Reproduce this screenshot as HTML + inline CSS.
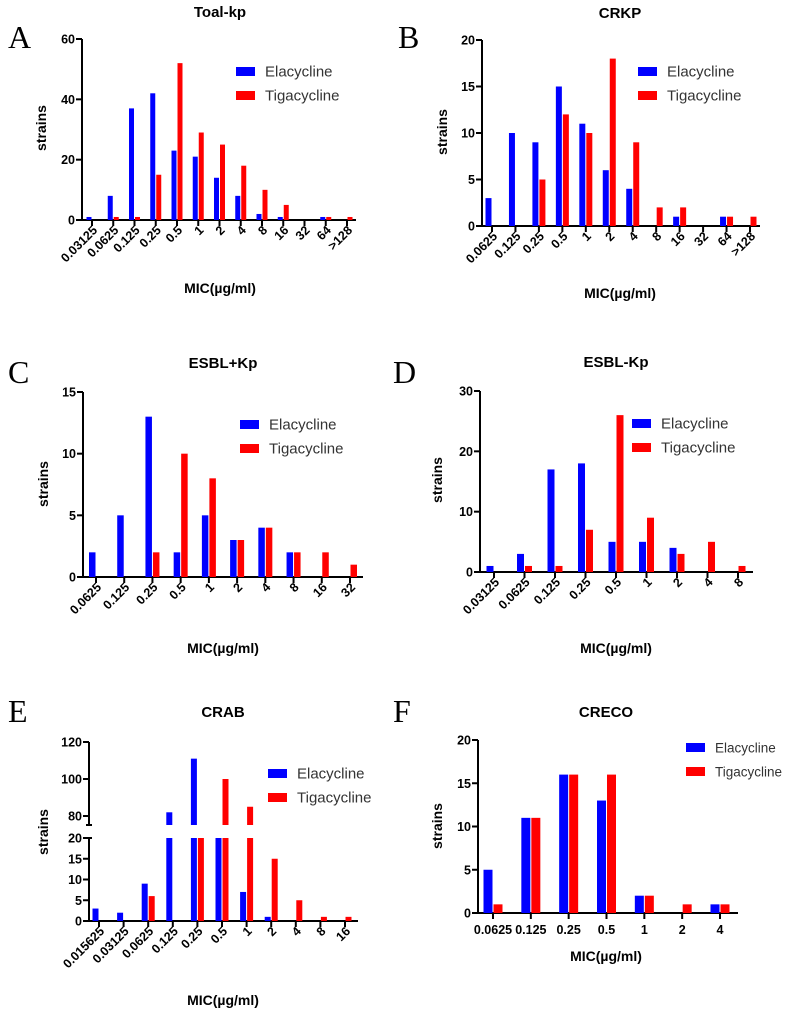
<!DOCTYPE html>
<html><head><meta charset="utf-8">
<style>
html,body{margin:0;padding:0;background:#fff;}
svg{display:block;}
text{font-family:"Liberation Sans",Arial,sans-serif;}
text.letter{font-family:"Liberation Serif","DejaVu Serif",serif;}
</style></head>
<body>
<svg id="fig" width="786" height="1015" viewBox="0 0 786 1015" xmlns="http://www.w3.org/2000/svg"></svg>
<script>
// Panel A
const catsA = ["0.03125","0.0625","0.125","0.25","0.5","1","2","4","8","16","32","64",">128"];
const elaA = [1,8,37,42,23,21,14,8,2,1,0,1,0];
const tigA = [0,1,1,15,52,29,25,18,10,5,0,1,1];
const ticksA = [0,20,40,60];
// Panel B
const catsB = ["0.0625","0.125","0.25","0.5","1","2","4","8","16","32","64",">128"];
const elaB = [3,10,9,15,11,6,4,0,1,0,1,0];
const tigB = [0,0,5,12,10,18,9,2,2,0,1,1];
const ticksB = [0,5,10,15,20];
// Panel C
const catsC = ["0.0625","0.125","0.25","0.5","1","2","4","8","16","32"];
const elaC = [2,5,13,2,5,3,4,2,0,0];
const tigC = [0,0,2,10,8,3,4,2,2,1];
const ticksC = [0,5,10,15];
// Panel D
const catsD = ["0.03125","0.0625","0.125","0.25","0.5","1","2","4","8"];
const elaD = [1,3,17,18,5,5,4,0,0];
const tigD = [0,1,1,7,26,9,3,5,1];
const ticksD = [0,10,20,30];
// Panel E
const catsE = ["0.015625","0.03125","0.0625","0.125","0.25","0.5","1","2","4","8","16"];
const elaE = [3,2,9,82,111,40,7,1,0,0,0];
const tigE = [0,0,6,0,40,100,85,15,5,1,1];
const ticksELow = [0,5,10,15,20];
const ticksEHigh = [80,100,120];
// Panel F
const catsF = ["0.0625","0.125","0.25","0.5","1","2","4"];
const elaF = [5,11,16,13,2,0,1];
const tigF = [1,11,16,16,2,1,1];
const ticksF = [0,5,10,15,20];

const NS="http://www.w3.org/2000/svg";
const svg=document.getElementById('fig');
function mk(tag,attrs,parent){const e=document.createElementNS(NS,tag);for(const k in attrs)e.setAttribute(k,attrs[k]);(parent||svg).appendChild(e);return e;}
function txt(s,attrs,parent){const e=mk('text',attrs,parent);e.textContent=s;return e;}
const TICKF=12.5, YTF=12.5;

function panel(p){
  const g=mk('g',{});
  
  
  const L=txt(p.letter,{x:p.lx,y:p.ly,'class':'letter','font-size':32},g);
  
  
  const T=txt(p.title,{x:p.tx,y:p.ty,'font-size':15,'font-weight':'bold','text-anchor':'middle'},g);
  
  
  const n=p.cats.length, sp=(p.lastTick-p.firstTick)/(n-1);
  const xf=i=>p.firstTick+i*sp;
  let yf;
  if(!p.broken){
    yf=v=>p.y0-(v/p.ymax)*(p.y0-p.ytop);
    const ya=mk('line',{x1:p.ax,y1:p.ytop,x2:p.ax,y2:p.y0+1,stroke:'#000','stroke-width':2},g);
    
    
    p.ticks.forEach(t=>{
      mk('line',{x1:p.ax-6,y1:yf(t),x2:p.ax,y2:yf(t),stroke:'#000','stroke-width':2},g);
      const tl=txt(t,{x:p.ax-7,y:yf(t)+4.5,'font-size':YTF,'font-weight':'bold','text-anchor':'end'},g);
      
      
    });
  } else {
    const lowY=v=>p.y0-(v/20)*(p.y0-p.y20);
    const hiY=v=>p.y80-(v-80)*(p.y80-p.y120)/40;
    yf=lowY; p.hiY=hiY;
    const ya=mk('line',{x1:p.ax,y1:p.y20,x2:p.ax,y2:p.y0+1,stroke:'#000','stroke-width':2},g);
    
    
    const yb=mk('line',{x1:p.ax,y1:p.y120,x2:p.ax,y2:p.yBrk,stroke:'#000','stroke-width':2},g);
    
    
    mk('line',{x1:p.ax-3,y1:p.yBrk,x2:p.ax+3,y2:p.yBrk,stroke:'#000','stroke-width':2},g);
    mk('line',{x1:p.ax-3,y1:p.y20,x2:p.ax+3,y2:p.y20,stroke:'#000','stroke-width':2},g);
    p.ticks.forEach(t=>{
      mk('line',{x1:p.ax-6,y1:lowY(t),x2:p.ax,y2:lowY(t),stroke:'#000','stroke-width':2},g);
      const tl=txt(t,{x:p.ax-7,y:lowY(t)+4.5,'font-size':YTF,'font-weight':'bold','text-anchor':'end'},g);
      
      
    });
    p.ticksHigh.forEach(t=>{
      mk('line',{x1:p.ax-6,y1:hiY(t),x2:p.ax,y2:hiY(t),stroke:'#000','stroke-width':2},g);
      const tl=txt(t,{x:p.ax-7,y:hiY(t)+4.5,'font-size':YTF,'font-weight':'bold','text-anchor':'end'},g);
      
      
    });
  }
  const xa=mk('line',{x1:p.ax-1,y1:p.y0,x2:p.axEnd,y2:p.y0,stroke:'#000','stroke-width':2},g);
  
  
  const yt=txt('strains',{x:0,y:0,'font-size':14,'font-weight':'bold','text-anchor':'middle',transform:`translate(${p.sx},${p.sy}) rotate(-90)`},g);
  
  
  const xt=txt('MIC(µg/ml)',{x:p.mx,y:p.my,'font-size':14,'font-weight':'bold','text-anchor':'middle'},g);
  
  
  const bw=p.bw;
  p.cats.forEach((c,i)=>{
    const x=xf(i);
    mk('line',{x1:x,y1:p.y0,x2:x,y2:p.y0+6,stroke:'#000','stroke-width':2},g);
    let lab;
    if(p.flat){
      lab=txt(c,{x:x,y:p.y0+21,'font-size':TICKF,'font-weight':'bold','text-anchor':'middle'},g);
    } else {
      lab=txt(c,{x:0,y:0,'font-size':TICKF,'font-weight':'bold','text-anchor':'end',transform:`translate(${x+6},${p.y0+11}) rotate(-45)`},g);
    }
    
    
    [[p.ela[i],'#0000ff',x-bw-0.5,'elacycline-bar'],[p.tig[i],'#ff0000',x+0.5,'tigacycline-bar']].forEach(([v,col,bx,nm])=>{
      if(v<=0)return;
      if(!p.broken){
        const r=mk('rect',{x:bx,y:yf(v),width:bw,height:p.y0-yf(v),fill:col},g);
        
        
      } else {
        const lv=Math.min(v,20);
        const r=mk('rect',{x:bx,y:yf(lv),width:bw,height:p.y0-yf(lv),fill:col},g);
        
        
        if(v>75){
          const r2=mk('rect',{x:bx,y:p.hiY(v),width:bw,height:p.yBrk-p.hiY(v),fill:col},g);
          
          
        }
      }
    });
  });
  const lf=p.legF||15;
  [['Elacycline','#0000ff',0],['Tigacycline','#ff0000',1]].forEach(([s,col,k])=>{
    const yy=p.legY+k*24;
    const sw=mk('rect',{x:p.legX,y:yy-4,width:19,height:9,fill:col},g);
    
    
    const lt=txt(s,{x:p.legX+29,y:yy+5.5,'font-size':lf,fill:'#333'},g);
    
    
  });
}

panel({id:'toal-kp',letter:'A',lx:8,ly:48,title:'Toal-kp',tx:220,ty:17,cats:catsA,ela:elaA,tig:tigA,ticks:ticksA,ymax:60,
  ax:82,ytop:39,y0:220,axEnd:356,firstTick:92,lastTick:347,bw:5,sx:46,sy:128,mx:220,my:293,legX:236,legY:71});
panel({id:'crkp',letter:'B',lx:398,ly:48,title:'CRKP',tx:620,ty:18,cats:catsB,ela:elaB,tig:tigB,ticks:ticksB,ymax:20,
  ax:482,ytop:40,y0:226,axEnd:760,firstTick:492,lastTick:750,bw:6,sx:447,sy:132,mx:620,my:298,legX:638,legY:71});
panel({id:'esbl-pos-kp',letter:'C',lx:8,ly:383,title:'ESBL+Kp',tx:223,ty:368,cats:catsC,ela:elaC,tig:tigC,ticks:ticksC,ymax:15,
  ax:83,ytop:392,y0:577,axEnd:363,firstTick:96,lastTick:350,bw:6.5,sx:48,sy:484,mx:223,my:653,legX:240,legY:424});
panel({id:'esbl-neg-kp',letter:'D',lx:393,ly:383,title:'ESBL-Kp',tx:616,ty:367,cats:catsD,ela:elaD,tig:tigD,ticks:ticksD,ymax:30,
  ax:480,ytop:391,y0:572,axEnd:753,firstTick:494,lastTick:738,bw:7,sx:442,sy:480,mx:616,my:653,legX:632,legY:423});
panel({id:'crab',letter:'E',lx:8,ly:722,title:'CRAB',tx:223,ty:717,cats:catsE,ela:elaE,tig:tigE,ticks:ticksELow,ticksHigh:ticksEHigh,broken:true,
  ax:89,y120:742,y80:816,yBrk:825,y20:838,y0:921,axEnd:358,firstTick:99,lastTick:345,bw:6,sx:48,sy:832,mx:223,my:1005,legX:268,legY:773});
panel({id:'creco',letter:'F',lx:393,ly:722,title:'CRECO',tx:606,ty:717,cats:catsF,ela:elaF,tig:tigF,ticks:ticksF,ymax:20,flat:true,
  ax:478,ytop:740,y0:913,axEnd:738,firstTick:493,lastTick:720,bw:9,sx:442,sy:826,mx:606,my:961,legX:686,legY:747,legF:13.5});
</script>
</body></html>
